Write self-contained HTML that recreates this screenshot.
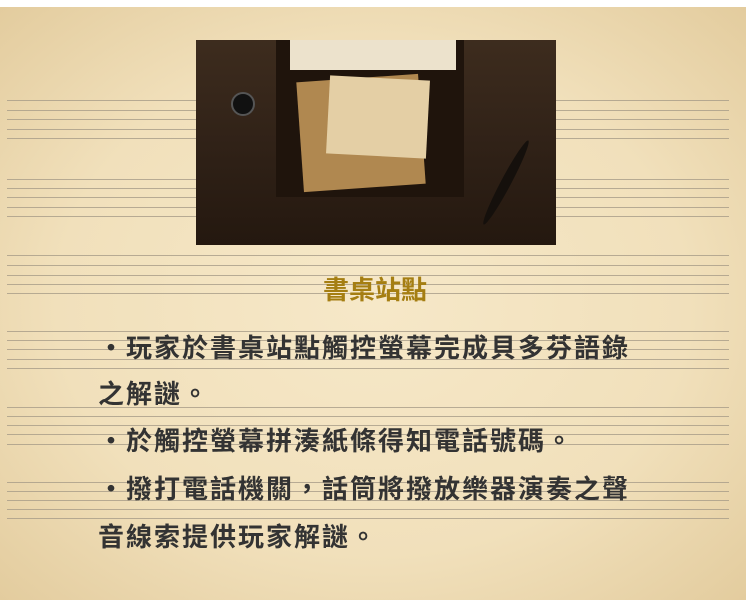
<!DOCTYPE html>
<html><head><meta charset="utf-8">
<style>
html,body{margin:0;padding:0;}
body{width:750px;height:612px;background:#fff;position:relative;overflow:hidden;font-family:"Liberation Sans","Noto Sans CJK TC",sans-serif;}
#paper{position:absolute;left:0;top:7px;width:746px;height:593px;background:radial-gradient(ellipse at 50% 50%,#f6e8c8 0%,#f1e0bb 60%,#e3cc9e 100%);}
.staff{position:absolute;height:1px;background:#a89c88;opacity:.8}
#photo{position:absolute;left:196px;top:40px;width:360px;height:205px;background:linear-gradient(180deg,#3d2c1e,#2e2016 60%,#24180f);}
.t{position:absolute;left:98px;font-size:26px;letter-spacing:2px;color:#333;line-height:30px;white-space:nowrap;font-weight:bold;}
</style></head><body>
<div id="paper"></div>
<div id="staves"></div>
<div id="photo">
  <div style="position:absolute;left:80px;top:0;width:188px;height:157px;background:#1f140c;"></div>
  <div style="position:absolute;left:94px;top:0;width:166px;height:30px;background:#ece2cc;"></div>
  <div style="position:absolute;left:104px;top:38px;width:122px;height:110px;background:#b08850;transform:rotate(-4deg);"></div>
  <div style="position:absolute;left:132px;top:38px;width:100px;height:78px;background:#e4cfa5;transform:rotate(3deg);"></div>
  <div style="position:absolute;left:35px;top:52px;width:20px;height:20px;border-radius:50%;background:#111;border:2px solid #555;"></div>
  <div style="position:absolute;left:305px;top:95px;width:10px;height:95px;background:#15100c;transform:rotate(28deg);border-radius:50%;"></div>
</div>
<div style="position:absolute;left:0;width:750px;top:270px;text-align:center;font-size:26px;font-weight:bold;color:#a57e12;">書桌站點</div>
<div class="t" style="top:333px">・玩家於書桌站點觸控螢幕完成貝多芬語錄</div>
<div class="t" style="top:379px">之解謎。</div>
<div class="t" style="top:426px">・於觸控螢幕拼湊紙條得知電話號碼。</div>
<div class="t" style="top:474px">・撥打電話機關，話筒將撥放樂器演奏之聲</div>
<div class="t" style="top:522px">音線索提供玩家解謎。</div>
<script>
var groups=[[100,110,119,129,138,196],[179,188,197,207,216,196],[255,265,275,284,293,0],[331,340,349,359,368,0],[407,416,425,434,444,0],[482,491,500,509,518,0]];
var c=document.getElementById('staves');
groups.forEach(function(g){
  for(var i=0;i<5;i++){
    var segs=g[5]?[[7,196],[556,729]]:[[7,729]];
    segs.forEach(function(s){
      var d=document.createElement('div');
      d.className='staff';
      
      
      d.style.top=g[i]+'px';d.style.left=s[0]+'px';d.style.width=(s[1]-s[0])+'px';
      c.appendChild(d);
    });
  }
});
</script>
</body></html>
